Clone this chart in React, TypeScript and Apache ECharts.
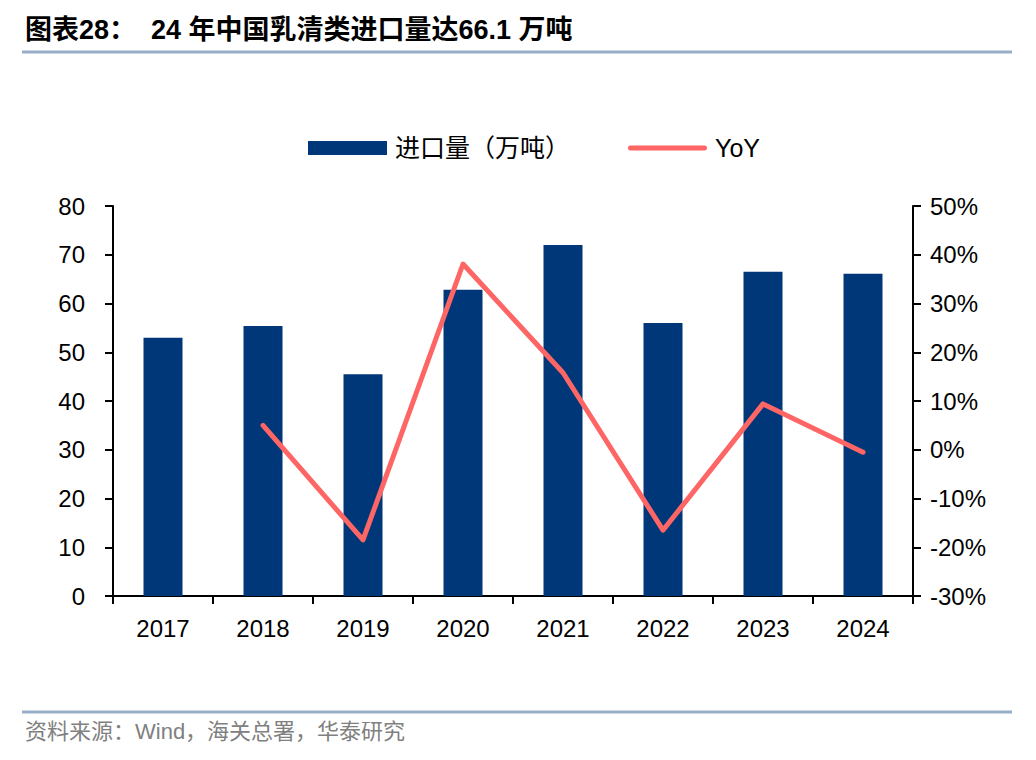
import React, { useEffect, useRef } from "react";
import * as echarts from "echarts";

const categories = ["2017", "2018", "2019", "2020", "2021", "2022", "2023", "2024"];
const importVolume = [53.0, 55.4, 45.5, 62.8, 72.0, 56.0, 66.5, 66.1];
const yoy = [null, 5.0, -18.5, 38.1, 15.8, -16.5, 9.4, -0.5];

const TITLE = "图表28：  24 年中国乳清类进口量达66.1 万吨";
const SOURCE = "资料来源：Wind，海关总署，华泰研究";
const BAR_NAME = "进口量（万吨）";
const LINE_NAME = "YoY";

const LATIN = "'Liberation Sans', Arial, 'Noto Sans CJK SC', sans-serif";
const LINE_ICON = "path://M2.5,0 L76.5,0 A2.5,2.5 0 0 1 76.5,5 L2.5,5 A2.5,2.5 0 0 1 2.5,0 Z";

export default function App() {
  const ref = useRef<HTMLDivElement>(null);
  useEffect(() => {
    document.body.style.margin = "0";
    const chart = echarts.init(ref.current!, null, { renderer: "svg" });
    chart.setOption({
      animation: false,
      backgroundColor: "#ffffff",
      grid: { left: 113, right: 123, top: 206, bottom: 164, containLabel: false },
      legend: {
        left: 303,
        top: 129,
        itemWidth: 79,
        itemHeight: 14,
        itemGap: 58,
        symbolKeepAspect: true,
        textStyle: {
          fontSize: 25,
          lineHeight: 28,
          color: "#000",
          fontFamily: LATIN,
          padding: [0, 0, 0, 3],
        },
        data: [
          { name: BAR_NAME, icon: "rect" },
          { name: LINE_NAME, icon: LINE_ICON, itemStyle: { color: "#fe6666" } },
        ],
      },
      xAxis: {
        type: "category",
        data: categories,
        axisLine: { show: true, lineStyle: { color: "#000", width: 2 } },
        axisTick: { show: true, alignWithLabel: false, length: 8, lineStyle: { color: "#000", width: 2 } },
        axisLabel: { fontSize: 24, color: "#000", fontFamily: LATIN, margin: 20 },
        splitLine: { show: false },
      },
      yAxis: [
        {
          type: "value",
          min: 0,
          max: 80,
          interval: 10,
          axisLine: { show: true, lineStyle: { color: "#000", width: 2 } },
          axisTick: { show: true, length: 8, lineStyle: { color: "#000", width: 2 } },
          axisLabel: { fontSize: 24, color: "#000", fontFamily: LATIN, margin: 28 },
          splitLine: { show: false },
        },
        {
          type: "value",
          min: -30,
          max: 50,
          interval: 10,
          position: "right",
          axisLine: { show: true, lineStyle: { color: "#000", width: 2 } },
          axisTick: { show: true, length: 8, lineStyle: { color: "#000", width: 2 } },
          axisLabel: {
            fontSize: 24,
            color: "#000",
            fontFamily: LATIN,
            margin: 17,
            formatter: "{value}%",
          },
          splitLine: { show: false },
        },
      ],
      series: [
        {
          name: BAR_NAME,
          type: "bar",
          data: importVolume,
          barWidth: 39,
          itemStyle: { color: "#003778" },
        },
        {
          name: LINE_NAME,
          type: "line",
          yAxisIndex: 1,
          data: yoy,
          symbol: "none",
          lineStyle: { color: "#fe6666", width: 5, cap: "round", join: "round" },
          itemStyle: { color: "#fe6666" },
        },
      ],
      graphic: [
        {
          type: "text",
          left: 25,
          top: 16,
          style: {
            text: TITLE,
            fontSize: 27,
            fontWeight: "bold",
            fontFamily: LATIN,
            fill: "#000",
          },
        },
        {
          type: "rect",
          shape: { x: 22, y: 50.5, width: 990, height: 3 },
          style: { fill: "#98adc8" },
        },
        {
          type: "rect",
          shape: { x: 22, y: 710.5, width: 990, height: 3 },
          style: { fill: "#98adc8" },
        },
        {
          type: "text",
          left: 25,
          top: 720,
          style: {
            text: SOURCE,
            fontSize: 22,
            fontFamily: LATIN,
            fill: "#808080",
          },
        },
      ],
    });
    return () => chart.dispose();
  }, []);
  return <div ref={ref} style={{ width: 1036, height: 760 }} />;
}
